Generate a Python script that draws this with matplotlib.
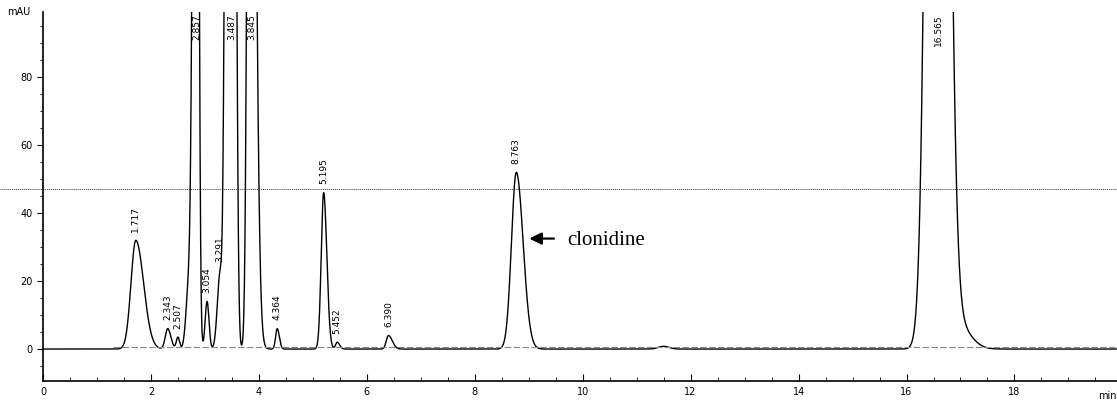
import numpy as np
import matplotlib
matplotlib.use("Agg")
import matplotlib.pyplot as plt
from matplotlib.transforms import blended_transform_factory

# ---- data ----
peak_rt = [1.72, 2.31, 2.50, 2.70, 2.84, 3.04, 3.28, 3.41, 3.54, 3.84, 4.34, 5.20, 5.45, 6.40, 8.77, 11.50, 16.57, 16.95]
peak_height = [32, 6, 3.5, 18, 400, 14, 22, 250, 250, 350, 6, 46, 2, 4, 52, 0.8, 600, 7]
peak_sigma = [0.09, 0.045, 0.03, 0.05, 0.05, 0.035, 0.05, 0.04, 0.04, 0.045, 0.03, 0.045, 0.03, 0.04, 0.09, 0.1, 0.14, 0.15]
peak_tail = [1.6, 1.3, 1.0, 1.0, 0.72, 1.0, 1.0, 1.0, 1.0, 1.8, 1.3, 1.3, 1.5, 1.8, 1.4, 1.0, 1.1, 1.5]

label_rt = [1.72, 2.31, 2.50, 2.84, 3.04, 3.28, 3.47, 3.84, 4.34, 5.20, 5.45, 6.40, 8.77, 16.57]
label_text = ["1.717", "2.343", "2.507", "2.857", "3.054", "3.291", "3.487", "3.845",
              "4.364", "5.195", "5.452", "6.390", "8.763", "16.565"]

x_ticks = [0, 2, 4, 6, 8, 10, 12, 14, 16, 18]
y_ticks = [0, 20, 40, 60, 80]
threshold = 47.2
compound = "clonidine"
compound_rt = 8.77

# ---- build trace ----
t = np.linspace(0, 19.9, 8000)
signal = np.zeros_like(t)
for rt, h, s, tf in zip(peak_rt, peak_height, peak_sigma, peak_tail):
    sig = np.where(t < rt, s, s * tf)
    signal += h * np.exp(-0.5 * ((t - rt) / sig) ** 2)

def value_at(x):
    return np.interp(x, t, signal)

fig = plt.figure(figsize=(11.17, 4.03), dpi=100)
ax = fig.add_axes([0.0385, 0.0546, 0.9615, 0.916])
ax.set_xlim(0, 19.9)
ax.set_ylim(-9.4, 99.2)

ax.plot(t, signal, color="black", lw=1.0)

# integration baseline
ax.plot([1.3, 19.9], [0.6, 0.6], color="#888888", lw=0.8, dashes=(6, 2))

# horizontal threshold line extending to figure edge
trans = blended_transform_factory(ax.transAxes, ax.transData)
ax.plot([-0.04, 1.0], [threshold, threshold], color="#333333", lw=0.7,
        ls=(0, (1, 1)), transform=trans, clip_on=False)

# peak labels
for rt, txt in zip(label_rt, label_text):
    v = value_at(rt)
    if v > 90:
        ax.text(rt + 0.02, 98.5, txt, rotation=90, ha="center", va="top", fontsize=6.5)
    else:
        ax.annotate(txt, (rt, v), xytext=(0, 6), textcoords="offset points",
                    rotation=90, ha="center", va="bottom", fontsize=6.5)

# compound annotation
ax.annotate("", xy=(compound_rt + 0.19, 32.5), xytext=(compound_rt + 0.75, 32.5),
            arrowprops=dict(arrowstyle="-|>", color="black", lw=1.6, mutation_scale=18))
ax.text(compound_rt + 0.95, 31.8, compound, fontsize=15, family="Liberation Serif",
        va="center", ha="left")

# axes styling
for side in ["top", "right"]:
    ax.spines[side].set_visible(False)
ax.spines["left"].set_linewidth(1.2)
ax.spines["bottom"].set_linewidth(1.2)
ax.set_xticks(x_ticks)
ax.set_xticks(np.arange(0, 19.9, 0.5), minor=True)
ax.set_yticks(y_ticks)
ax.set_yticks(np.arange(-5, 99, 5), minor=True)
ax.tick_params(axis="x", which="major", direction="in", length=5, labelsize=7, pad=4)
ax.tick_params(axis="x", which="minor", direction="in", length=3)
ax.tick_params(axis="y", which="major", direction="out", length=4, labelsize=7)
ax.tick_params(axis="y", which="minor", direction="out", length=2)
ax.text(-0.012, 99.2, "mAU", transform=trans, ha="right", va="center", fontsize=7)
ax.text(19.72, -12.2, "min", ha="center", va="top", fontsize=7, clip_on=False)

fig.savefig("out.png", dpi=100)
